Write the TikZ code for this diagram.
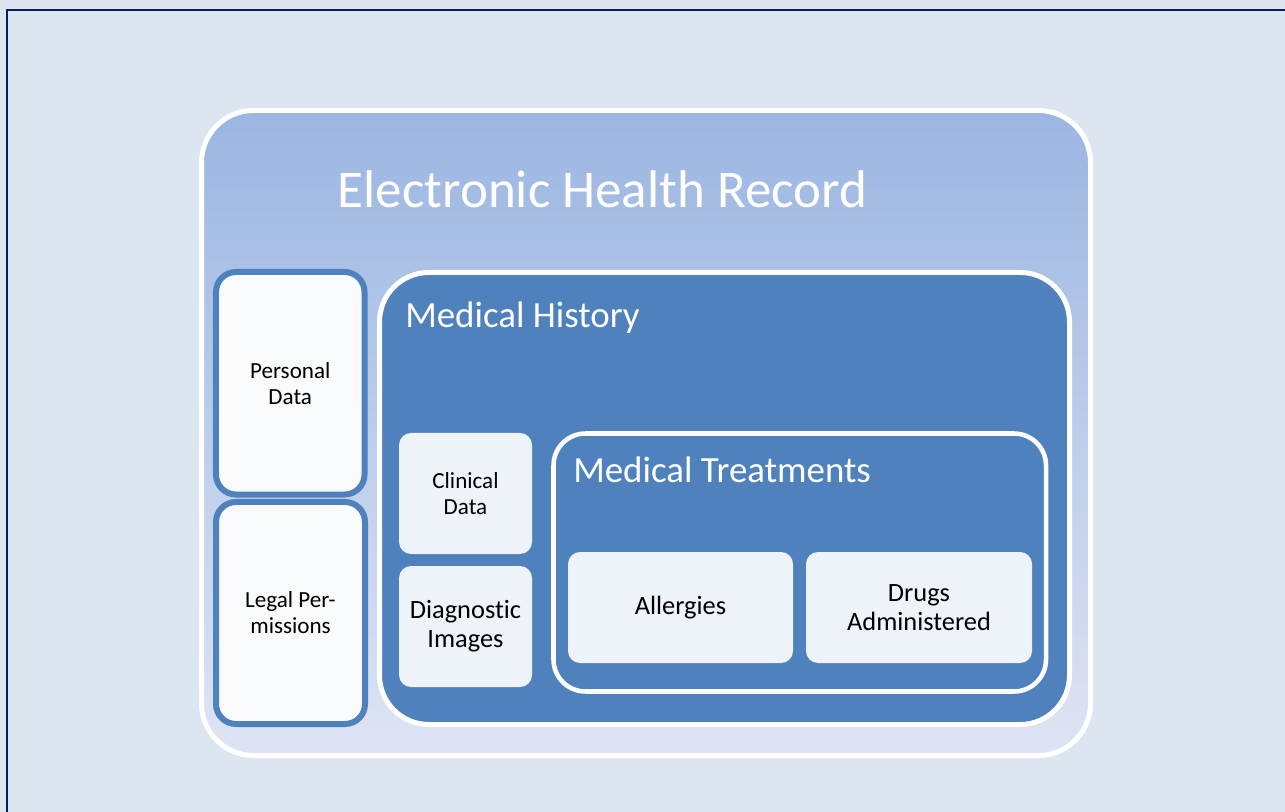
\documentclass[tikz,border=0pt]{standalone}
\usepackage{fontspec}
\setmainfont{Carlito}[Ligatures=NoCommon]
\definecolor{bgc}{RGB}{220,230,241}
\definecolor{navy}{RGB}{0,32,96}
\definecolor{midblue}{RGB}{79,129,189}
\definecolor{topblue}{RGB}{155,182,226}
\definecolor{botblue}{RGB}{222,228,243}
\definecolor{lightbox}{RGB}{238,242,249}
\definecolor{whitebox}{RGB}{248,250,253}
\tikzset{
  px/.style={x=0.75pt,y=-0.75pt},
  outerbox/.style={rectangle, rounded corners=39pt, draw=white, line width=3.75pt, top color=topblue, bottom color=botblue, inner sep=0pt},
  sidebox/.style={rectangle, rounded corners=15pt, draw=midblue, line width=4.5pt, fill=whitebox, align=center, font=\fontsize{17.3}{19.5}\selectfont, inner sep=0pt},
  bluebox/.style={rectangle, draw=white, fill=midblue, inner sep=0pt},
  leafbox/.style={rectangle, rounded corners=9pt, fill=lightbox, align=center, inner sep=0pt},
  smalltxt/.style={font=\fontsize{17.3}{20}\selectfont},
  medtxt/.style={font=\fontsize{19.8}{21.5}\selectfont},
  headtxt/.style={text=white, font=\fontsize{27.7}{30}\selectfont, anchor=base west, inner sep=0pt},
}
\begin{document}
\begin{tikzpicture}[px]
\useasboundingbox (0,0) rectangle (1285,812);
\fill[bgc] (0,0) rectangle (1285,812);
\coordinate (fb) at (7,830);
\coordinate (fc) at (7,10);
\coordinate (fr) at (1300,10);
\begin{scope}
\clip (0,0) rectangle (1285,812);
\draw[navy, line width=1.6pt] (fb) -- (fc) -- (fr);
\end{scope}
% outer
\node[outerbox, minimum width=666.75pt, minimum height=483.75pt] (ehr) at (646,433) {};
\node[text=white, font=\fontsize{39.8}{42}\selectfont, anchor=base, inner sep=0pt] (title) at (602.5,208) {Electronic Health Record};
% side boxes
\node[sidebox, minimum width=111.4pt, minimum height=166.9pt] (personal) at (290.25,383.25) {Personal\\Data};
\node[sidebox, minimum width=111.75pt, minimum height=166.5pt] (legal) at (290.5,613) {Legal Per-\\missions};
% medical history
\node[bluebox, rounded corners=37pt, line width=3.75pt, minimum width=517.5pt, minimum height=339pt] (history) at (724.5,498.5) {};
\node[headtxt] (historylbl) at (405,328) {Medical History};
\node[leafbox, smalltxt, minimum width=99.75pt, minimum height=90.75pt] (clinical) at (465.5,493.5) {Clinical\\Data};
\node[leafbox, medtxt, minimum width=99.75pt, minimum height=90.75pt] (diagnostic) at (465.5,626.5) {Diagnostic\\Images};
% medical treatments
\node[bluebox, rounded corners=24pt, line width=3.4pt, minimum width=369.4pt, minimum height=193.5pt] (treat) at (799.75,562.5) {};
\node[headtxt] (treatlbl) at (573,483) {Medical Treatments};
\node[leafbox, medtxt, minimum width=168.75pt, minimum height=83.25pt] (allergies) at (680.5,607.5) {Allergies};
\node[leafbox, medtxt, minimum width=169.5pt, minimum height=83.25pt] (drugs) at (919,607.5) {Drugs\\Administered};
\end{tikzpicture}
\end{document}
